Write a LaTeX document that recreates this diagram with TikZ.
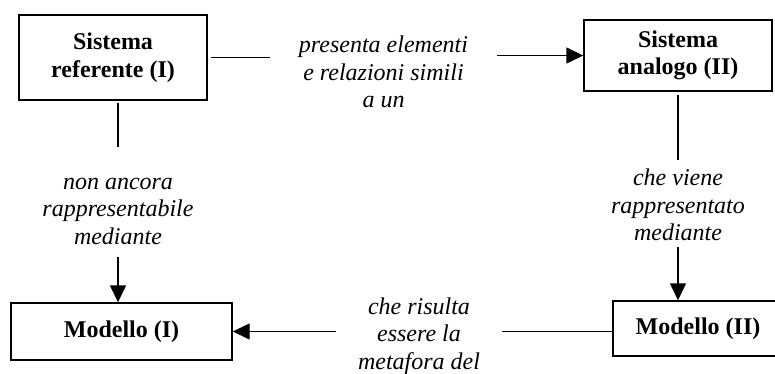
\documentclass[tikz,border=0pt]{standalone}
\usepackage{fontspec}
\setmainfont{Liberation Serif}
\usetikzlibrary{arrows.meta}
\begin{document}
\begin{tikzpicture}[x=1pt,y=-1pt,
  every node/.style={font=\fontsize{24}{27.5}\selectfont, align=center},
  box/.style={draw, line width=1.4pt, inner sep=0pt, font=\fontsize{24}{27.5}\selectfont\bfseries},
  lbl/.style={inner sep=0pt, font=\fontsize{24}{27.5}\selectfont\itshape},
  link/.style={line width=1.4pt},
  arr/.style={line width=1.4pt, -{Triangle[length=17pt,width=16pt]}}]
  \useasboundingbox (0,0) rectangle (775,374);

  % boxes
  \node[box, minimum width=188pt, minimum height=85pt] (ref) at (113,57.5) {Sistema\\referente (I)};
  \node[box, minimum width=188pt, minimum height=71pt] (ana) at (678,55.5) {Sistema\\analogo (II)};
  \node[box, minimum width=221pt, minimum height=57pt] (modA) at (121.5,331.5) {Modello (I)};
  \node[box, minimum width=170pt, minimum height=55pt] (modB) at (698,328.5) {Modello (II)};

  % connector labels
  \node[lbl, minimum width=227pt] (l1) at (383.5,72) {presenta elementi\\e relazioni simili\\a un};
  \node[lbl] (l2) at (118,211) {non ancora\\rappresentabile\\mediante};
  \node[lbl] (l3) at (678,205) {che viene\\rappresentato\\mediante};
  \node[lbl, minimum width=166pt] (l4) at (419,336) {che risulta\\essere la\\metafora del};

  % connectors
  \draw[link, shorten <=3pt] (ref.east) -- (ref.east -| l1.west);
  \draw[arr] (l1.east |- ana.west) -- (ana.west);

  \draw[link, shorten <=2pt] (ref.south -| l2) -- ([yshift=64pt]l2.center);
  \draw[arr] ([yshift=-46pt]l2.center) -- (modA.north -| l2);

  \draw[link, shorten <=3pt] (ana.south -| l3) -- ([yshift=45pt]l3.center);
  \draw[arr] ([yshift=-42pt]l3.center) -- (modB.north -| l3);

  \draw[link] (modA.east -| modB.west) -- (modA.east -| l4.east);
  \draw[arr] (modA.east -| l4.west) -- (modA.east);
\end{tikzpicture}
\end{document}
